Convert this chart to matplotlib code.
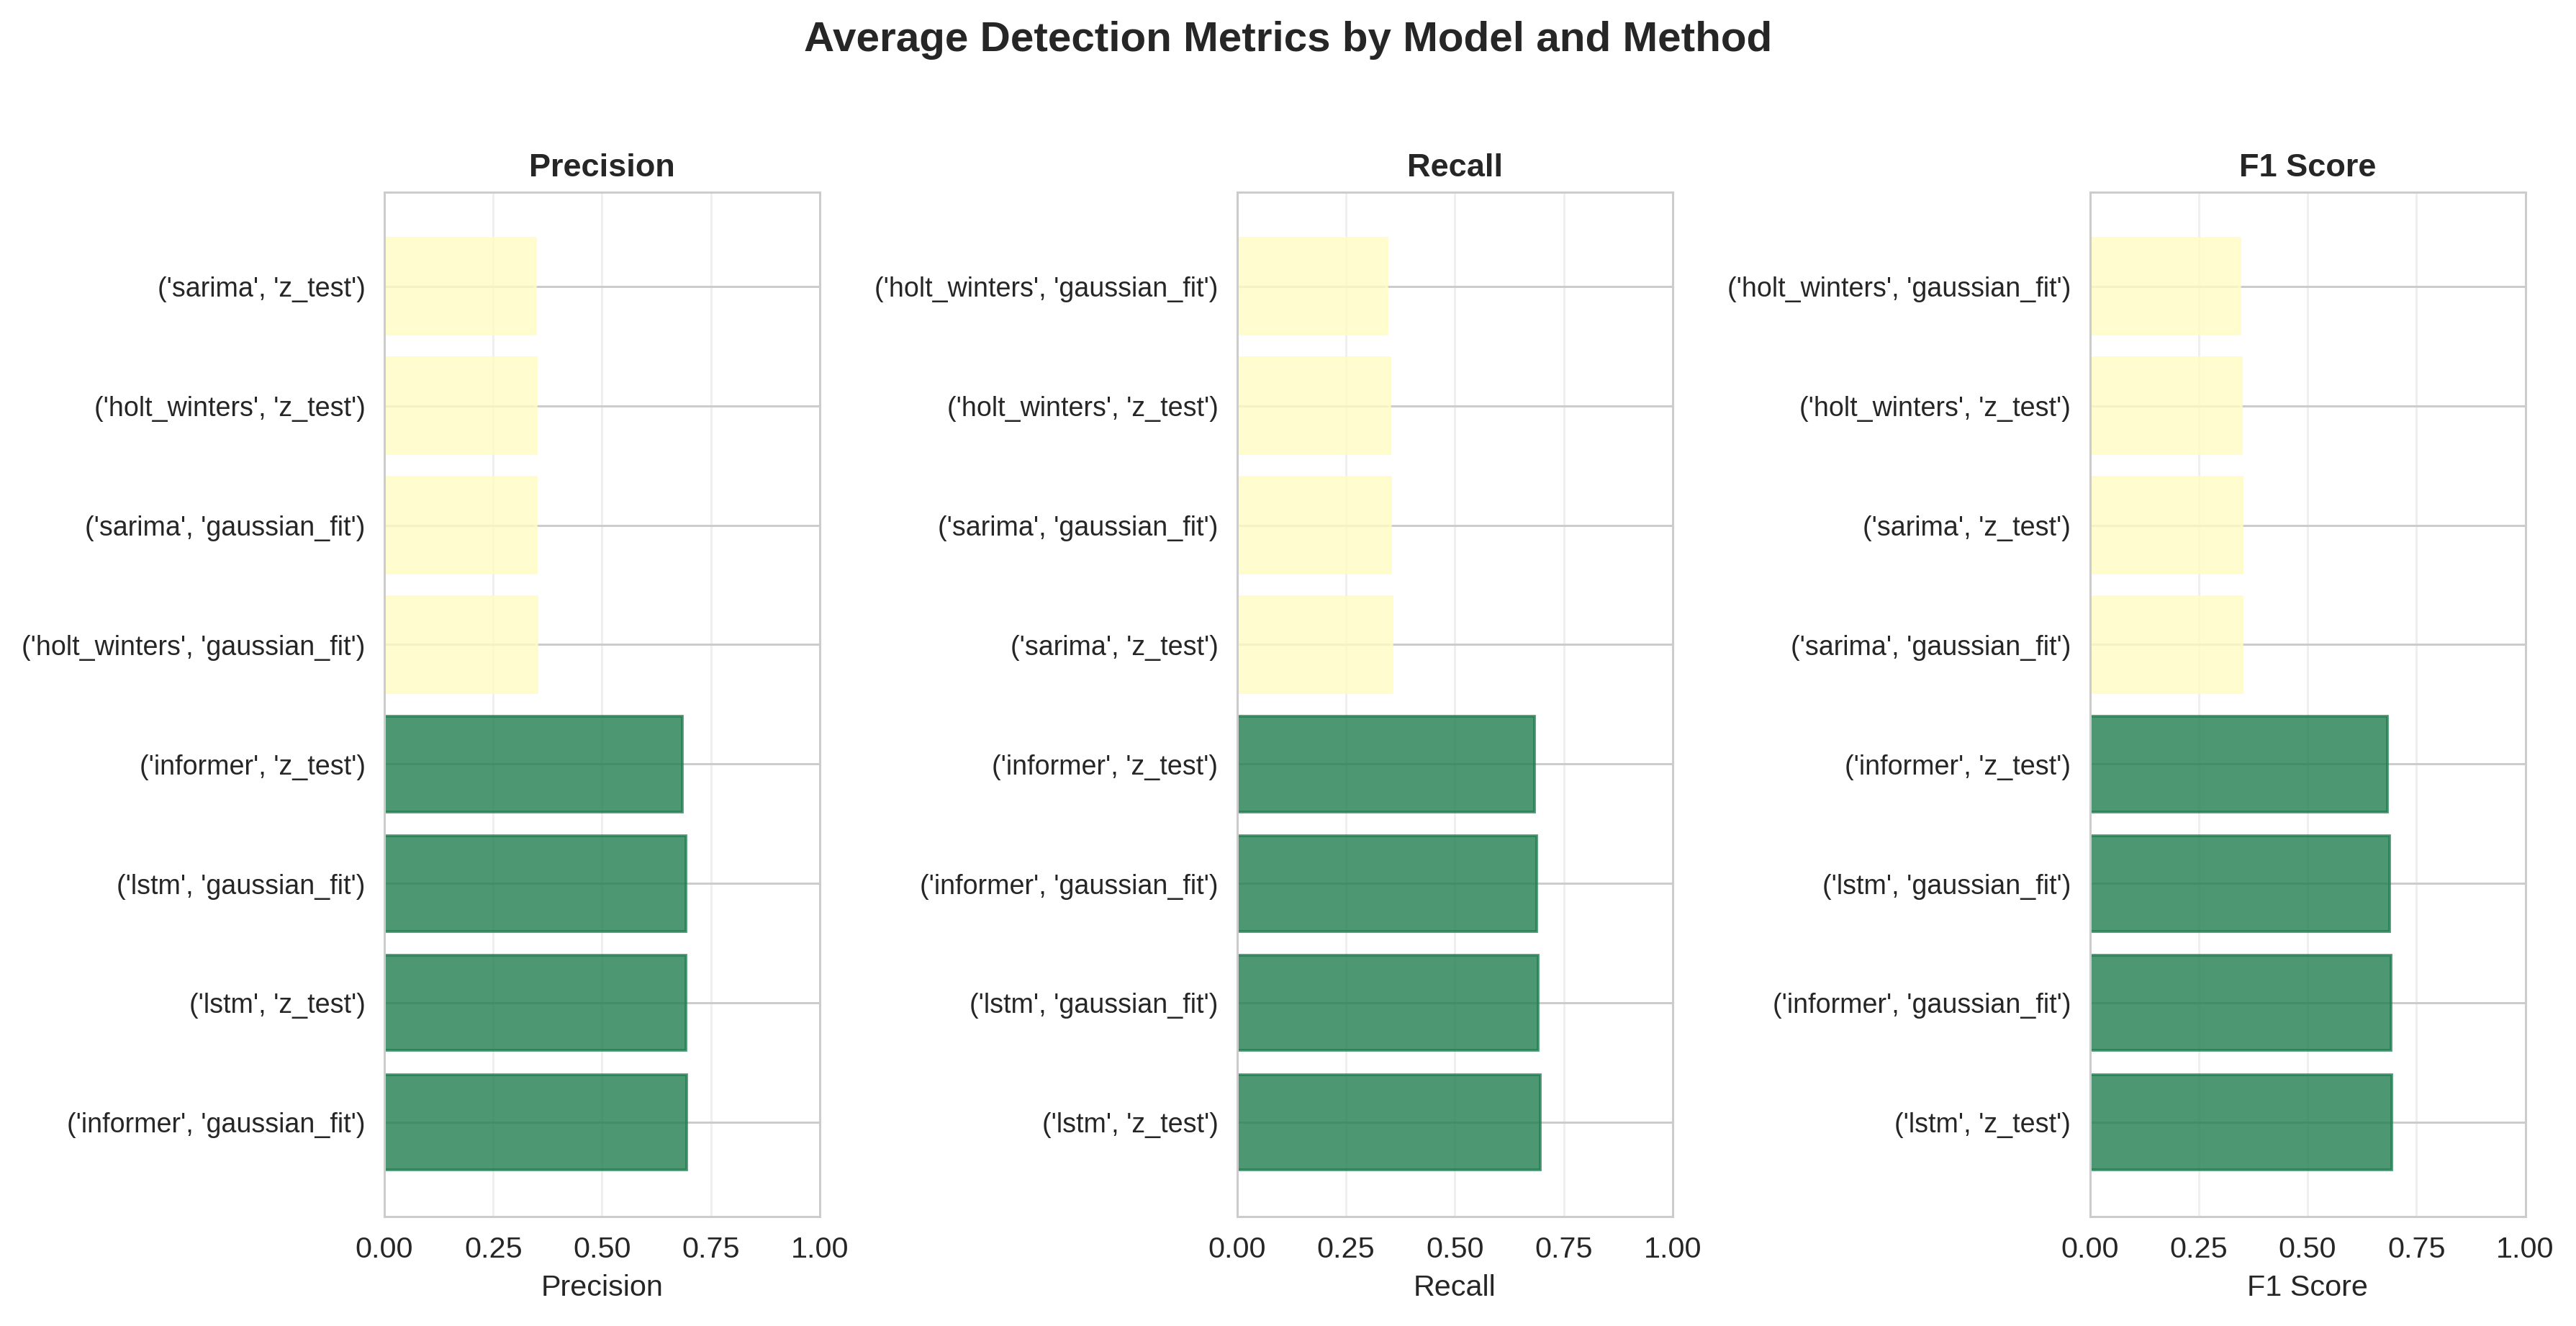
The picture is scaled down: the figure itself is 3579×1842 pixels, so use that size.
import matplotlib
matplotlib.use("Agg")
import matplotlib.pyplot as plt
import seaborn as sns

# average metric per (model, method), listed bottom bar first
precision_labels = [
    ("informer", "gaussian_fit"), ("lstm", "z_test"), ("lstm", "gaussian_fit"),
    ("informer", "z_test"), ("holt_winters", "gaussian_fit"), ("sarima", "gaussian_fit"),
    ("holt_winters", "z_test"), ("sarima", "z_test"),
]
precision_values = [0.695, 0.693, 0.692, 0.684, 0.350, 0.349, 0.348, 0.347]

recall_labels = [
    ("lstm", "z_test"), ("lstm", "gaussian_fit"), ("informer", "gaussian_fit"),
    ("informer", "z_test"), ("sarima", "z_test"), ("sarima", "gaussian_fit"),
    ("holt_winters", "z_test"), ("holt_winters", "gaussian_fit"),
]
recall_values = [0.696, 0.6915, 0.688, 0.683, 0.3555, 0.3525, 0.351, 0.344]

f1_labels = [
    ("lstm", "z_test"), ("informer", "gaussian_fit"), ("lstm", "gaussian_fit"),
    ("informer", "z_test"), ("sarima", "gaussian_fit"), ("sarima", "z_test"),
    ("holt_winters", "z_test"), ("holt_winters", "gaussian_fit"),
]
f1_values = [0.693, 0.691, 0.689, 0.683, 0.350, 0.349, 0.347, 0.345]

metric_names = ["Precision", "Recall", "F1 Score"]

sns.set_style("whitegrid")
plt.rcParams["font.family"] = ["Liberation Sans", "DejaVu Sans"]

DPI = 271
fig, axes = plt.subplots(1, 3, figsize=(3579.4 / DPI, 1842.4 / DPI))
fig.subplots_adjust(left=0.1492, right=0.9802, bottom=0.0825, top=0.855, wspace=0.9587)

panels = [
    (precision_labels, precision_values),
    (recall_labels, recall_values),
    (f1_labels, f1_values),
]

for ax, name, (labels, values) in zip(axes, metric_names, panels):
    colors = ["#217e4f" if v > 0.5 else "#fffcc4" for v in values]
    pos = range(len(values))
    ax.barh(pos, values, height=0.8, color=colors, edgecolor=colors,
            linewidth=1, alpha=0.8)
    ax.set_yticks(list(pos))
    ax.set_yticklabels([str(l) for l in labels], fontsize=10)
    ax.set_xlim(0, 1)
    ax.set_xticks([0, 0.25, 0.5, 0.75, 1.0])
    ax.tick_params(axis="x", labelsize=11)
    ax.set_xlabel(name, fontsize=11)
    ax.set_title(name, fontweight="bold", fontsize=12)
    ax.grid(axis="x", alpha=0.3)

fig.suptitle("Average Detection Metrics by Model and Method", fontsize=15.5,
             fontweight="bold", y=0.984)

fig.savefig("out.png", dpi=DPI)
